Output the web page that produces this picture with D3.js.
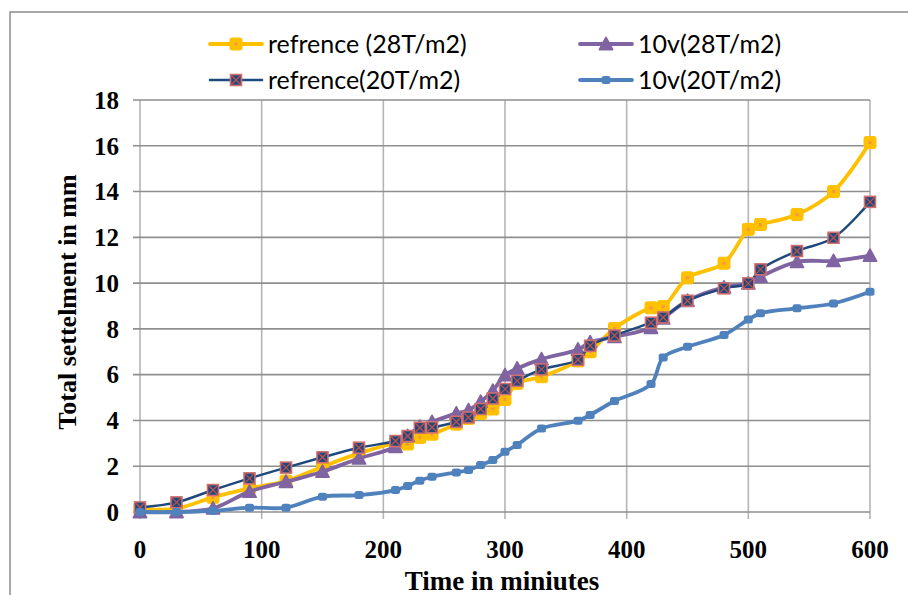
<!DOCTYPE html>
<html><head><meta charset="utf-8">
<script src="https://cdn.jsdelivr.net/npm/d3@7"></script>
<style>body{margin:0;background:#fff}svg{display:block}</style>
</head><body>
<svg id="chart" width="908" height="595"></svg>
<script>
const times = [0,30,60,90,120,150,180,210,220,230,240,260,270,280,290,300,310,330,360,370,390,420,430,450,480,500,510,540,570,600];
const ref28 = [0.12,0.15,0.64,1.03,1.35,1.98,2.56,3.0,2.97,3.26,3.4,3.84,4.09,4.31,4.5,4.92,5.62,5.91,6.6,7.0,8.02,8.92,8.97,10.23,10.87,12.35,12.56,13.0,14.0,16.14];
const v10_28 = [0,0,0.16,0.89,1.32,1.76,2.34,2.85,3.32,3.73,3.94,4.31,4.45,4.82,5.3,5.98,6.27,6.68,7.1,7.42,7.65,8.05,8.46,9.23,9.81,9.99,10.28,10.93,10.97,11.2];
const ref20 = [0.2,0.42,0.96,1.47,1.94,2.39,2.81,3.10,3.32,3.68,3.70,3.94,4.13,4.5,4.96,5.37,5.73,6.23,6.65,7.26,7.71,8.27,8.5,9.23,9.77,9.99,10.6,11.4,11.98,13.55];
const v10_20 = [0,0,0.05,0.19,0.19,0.67,0.74,0.96,1.14,1.37,1.54,1.73,1.83,2.05,2.27,2.63,2.93,3.65,3.99,4.24,4.85,5.59,6.75,7.22,7.73,8.41,8.68,8.9,9.11,9.62];
const seriesNames = ["refrence (28T/m2)","10v(28T/m2)","refrence(20T/m2)","10v(20T/m2)"];
const xTicks = [0,100,200,300,400,500,600];
const yTicks = [0,2,4,6,8,10,12,14,16,18];

const svg = d3.select("#chart");
const x = d3.scaleLinear().domain([0,600]).range([140,870]);
const y = d3.scaleLinear().domain([0,18]).range([512,100]);

// outer frame
svg.append("rect").attr("x",10).attr("y",12).attr("width",906).attr("height",600)
  .attr("fill","none").attr("stroke","#8c8c8c").attr("stroke-width",1.5);

// gridlines
svg.append("g").selectAll("line").data(xTicks).join("line")
  .attr("x1",d=>x(d)).attr("x2",d=>x(d)).attr("y1",y(18)).attr("y2",y(0)+7)
  .attr("stroke","#b5b5b5").attr("stroke-width",1.6);
svg.append("g").selectAll("line").data(yTicks).join("line")
  .attr("x1",x(0)-7).attr("x2",x(600)).attr("y1",d=>y(d)).attr("y2",d=>y(d))
  .attr("stroke","#8f8f8f").attr("stroke-width",1.6);

// tick labels
const serif = "'Liberation Serif','Times New Roman',serif";
svg.append("g").selectAll("text").data(yTicks).join("text")
  .attr("x",x(0)-21).attr("y",d=>y(d)).attr("dy","0.35em").attr("text-anchor","end")
  .attr("font-family",serif).attr("font-weight","bold").attr("font-size",25).text(d=>d);
svg.append("g").selectAll("text").data(xTicks).join("text")
  .attr("x",d=>x(d)).attr("y",549).attr("dy","0.35em").attr("text-anchor","middle")
  .attr("font-family",serif).attr("font-weight","bold").attr("font-size",25).text(d=>d);

svg.append("text").attr("x",502).attr("y",590).attr("text-anchor","middle")
  .attr("font-family",serif).attr("font-weight","bold").attr("font-size",27).text("Time in miniutes");
svg.append("text").attr("transform","translate(76,302) rotate(-90)").attr("text-anchor","middle")
  .attr("font-family",serif).attr("font-weight","bold").attr("font-size",26).text("Total settelment in mm");

const styles = [
  {data:ref28, color:"#FFC000", w:3.8, marker:"square"},
  {data:v10_28, color:"#8064A2", w:3.8, marker:"triangle"},
  {data:ref20, color:"#1F497D", w:2.5, marker:"x"},
  {data:v10_20, color:"#4F81BD", w:3.8, marker:"dot"}
];

function drawMarker(g, type, cx, cy, color){
  if(type==="square"){
    g.append("rect").attr("x",cx-6).attr("y",cy-6).attr("width",12).attr("height",12).attr("rx",2)
      .attr("fill",color).attr("stroke",color).attr("stroke-width",1);
    g.append("rect").attr("x",cx-1.5).attr("y",cy-1.5).attr("width",3).attr("height",3).attr("fill","#F79646");
  } else if(type==="triangle"){
    g.append("path").attr("d",`M${cx},${cy-6.5}L${cx+6.5},${cy+5.5}L${cx-6.5},${cy+5.5}Z`)
      .attr("fill",color).attr("stroke",color).attr("stroke-width",1.8).attr("stroke-linejoin","round");
  } else if(type==="x"){
    g.append("rect").attr("x",cx-5.5).attr("y",cy-5.5).attr("width",11).attr("height",11)
      .attr("fill","#1F497D").attr("stroke","#D07070").attr("stroke-width",1.6);
    g.append("path").attr("d",`M${cx-4.5},${cy-4.5}L${cx+4.5},${cy+4.5}M${cx+4.5},${cy-4.5}L${cx-4.5},${cy+4.5}`)
      .attr("stroke","#C0504D").attr("stroke-width",1.3);
  } else {
    g.append("rect").attr("x",cx-4.5).attr("y",cy-4).attr("width",9).attr("height",8).attr("rx",2.5)
      .attr("fill",color);
  }
}

const line = d3.line().x((d,i)=>x(times[i])).y(d=>y(d)).curve(d3.curveCatmullRom.alpha(0.5));
styles.forEach(s=>{
  const g = svg.append("g");
  g.append("path").attr("d",line(s.data)).attr("fill","none").attr("stroke",s.color)
    .attr("stroke-width",s.w).attr("stroke-linejoin","round").attr("stroke-linecap","round");
  s.data.forEach((v,i)=>drawMarker(g,s.marker,x(times[i]),y(v),s.color));
});

// legend
const legPos = [[210,44],[580,44],[210,80],[580,80]];
const legOrder = [0,1,2,3];
legOrder.forEach((si,k)=>{
  const s = styles[si];
  const [lx,ly] = legPos[k];
  const g = svg.append("g");
  g.append("line").attr("x1",lx).attr("x2",lx+52).attr("y1",ly).attr("y2",ly)
    .attr("stroke",s.color).attr("stroke-width",s.w).attr("stroke-linecap","round");
  drawMarker(g,s.marker,lx+26,ly,s.color);
  g.append("text").attr("x",lx+58).attr("y",ly).attr("dy","0.35em")
    .attr("font-family","Lato, 'Open Sans', sans-serif").attr("font-size",25).attr("fill","#000")
    .text(seriesNames[si]);
});
</script>
</body></html>
